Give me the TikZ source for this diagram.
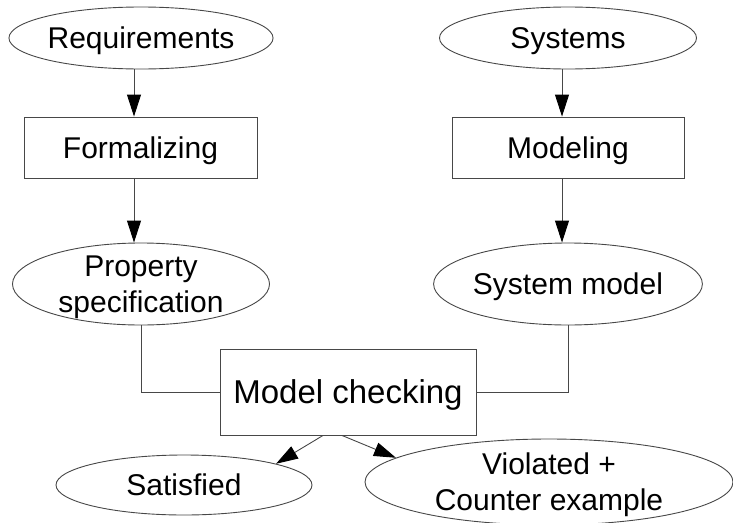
\documentclass[tikz,border=0pt]{standalone}
\usepackage{fontspec}
\setmainfont{Liberation Sans}
\usetikzlibrary{shapes.geometric,arrows.meta}
\tikzset{
  line/.style={draw=black!72, line width=0.9pt},
  ell/.style={ellipse, line, inner sep=0pt, text depth=0pt, align=center, font=\fontsize{30}{36}\selectfont},
  box/.style={rectangle, line, inner sep=0pt, text depth=0pt, align=center, font=\fontsize{30}{36}\selectfont},
  arr/.style={line, -{Triangle[length=22pt,width=14pt,color=black,fill=black]}},
}
\begin{document}
\begin{tikzpicture}[x=1pt,y=1pt]
\useasboundingbox (0,0) rectangle (733,-522);
\node[ell, minimum width=257pt, minimum height=62pt] (req) at (141,-38) {Requirements};
\node[ell, minimum width=257pt, minimum height=62pt] (sys) at (568,-38) {Systems};
\node[box, minimum width=233pt, minimum height=61pt] (form) at (140.5,-147.5) {Formalizing};
\node[box, minimum width=232pt, minimum height=61pt] (mod) at (568,-147.5) {Modeling};
\node[ell, minimum width=257pt, minimum height=82pt] (prop) at (141,-284) {Property\\specification};
\node[ell, minimum width=257pt, minimum height=82pt] (sysm) at (568,-284) {System model};
\node[box, minimum width=256pt, minimum height=86pt, font=\fontsize{33}{38}\selectfont] (mc) at (348,-392) {Model checking};
\node[ell, minimum width=256pt, minimum height=60pt] (sat) at (184,-485) {Satisfied};
\node[ell, minimum width=368pt, minimum height=86pt] (vio) at (549,-482) {Violated +\\Counter example};
\draw[arr] ([xshift=-7pt]req.south) -- ([xshift=-6.5pt]form.north);
\draw[arr] ([xshift=-6.5pt]form.south) -- ([xshift=-7pt]prop.north);
\draw[arr] ([xshift=-6pt]sys.south) -- ([xshift=-6pt]mod.north);
\draw[arr] ([xshift=-6pt]mod.south) -- ([xshift=-6pt]sysm.north);
\draw[line] (prop.south) |- (mc.west);
\draw[line] (sysm.south) |- (mc.east);
\coordinate (s1) at ([xshift=-25pt]mc.south);
\coordinate (s2) at ([xshift=-6pt]mc.south);
\draw[arr] (s1) -- (sat.13);
\draw[arr] (s2) -- (vio.171);
\end{tikzpicture}
\end{document}
